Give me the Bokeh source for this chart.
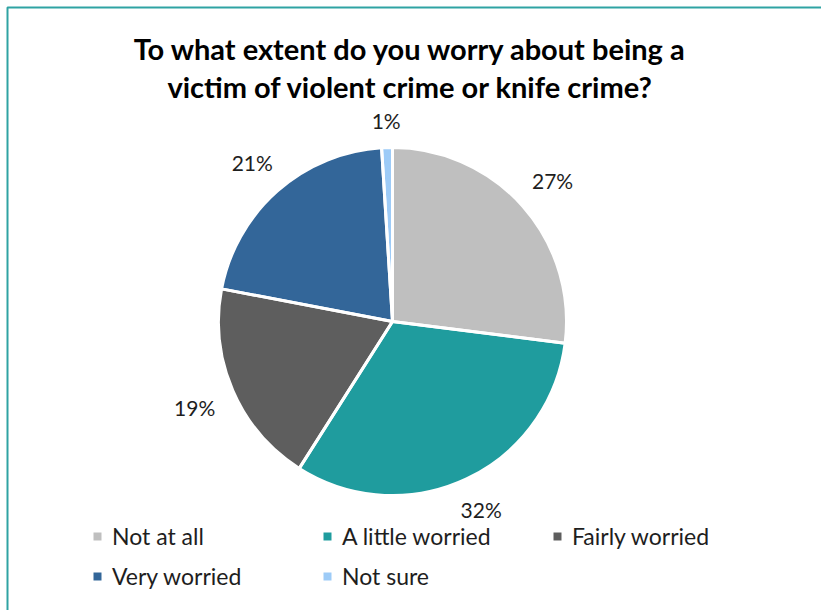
import numpy as np
from bokeh.plotting import figure
from bokeh.models import ColumnDataSource, Legend, LegendItem, BoxAnnotation, Range1d
from bokeh.core.properties import value
from bokeh.embed import file_html
from bokeh.resources import INLINE

# ---- data ----
title_lines = ["To what extent do you worry about being a",
               "victim of violent crime or knife crime?"]
categories = ["Not at all", "A little worried", "Fairly worried", "Very worried", "Not sure"]
percents = [27, 32, 19, 21, 1]
colors = ["#BFBFBF", "#1F9C9E", "#5E5E5E", "#336699", "#9DCBF7"]

W, H = 821, 610
CX, CY = 392, H - 321
R = 174
FONT = "Lato"
LABEL_PX = 21
GAP = 22

vals = np.array(percents, dtype=float)
frac = vals / vals.sum()
cum = np.concatenate([[0.0], np.cumsum(frac)])
start = np.pi / 2 - 2 * np.pi * cum[:-1]
end = np.pi / 2 - 2 * np.pi * cum[1:]
mid = (start + end) / 2
pct_text = [f"{v}%" for v in percents]
hw = np.array([len(t) * 0.31 * LABEL_PX for t in pct_text])
hh = 0.2 * LABEL_PX
ux, uy = np.cos(mid), np.sin(mid)
dist = R + GAP + np.abs(hw * ux) + np.abs(hh * uy)
lx = CX + dist * ux
ly = CY + dist * uy

src = ColumnDataSource(dict(cat=categories, pct=pct_text,
                            color=colors, start=start, end=end, lx=lx, ly=ly))

p = figure(width=W, height=H, output_backend="svg", toolbar_location=None,
           x_range=Range1d(0, W), y_range=Range1d(0, H),
           x_axis_type=None, y_axis_type=None, min_border=0)
p.grid.visible = False
p.outline_line_color = None
p.background_fill_color = "white"
p.border_fill_color = "white"

# outer frame
p.add_layout(BoxAnnotation(left=7, right=W + 20, bottom=-20, top=H - 7,
                           fill_alpha=0, line_color="#2FA3A3", line_alpha=1,
                           line_width=2))

wedges = p.wedge(x=CX, y=CY, radius=R, start_angle="start", end_angle="end",
                 direction="clock", fill_color="color", line_color=None, source=src)
p.wedge(x=CX, y=CY, radius=R, start_angle="start", end_angle="end",
        direction="clock", fill_alpha=0, line_color="white", line_width=3, source=src)

p.text(x="lx", y="ly", text="pct", source=src, text_align="center",
       text_baseline="middle", text_font=value(FONT), text_font_size=f"{LABEL_PX}px",
       text_color="#1E1E1E")

# title
p.text(x=[410, 410], y=[H - 48, H - 86], text=title_lines, text_align="center",
       text_baseline="middle", text_font=value(FONT), text_font_size="29px",
       text_font_style="bold", text_color="#000000")

items = [LegendItem(label=c, renderers=[wedges], index=i) for i, c in enumerate(categories)]
legend = Legend(items=items, orientation="horizontal", ncols=3,
                location=(92, 19), padding=0, margin=0, border_line_color=None,
                background_fill_alpha=0, glyph_width=10, glyph_height=10,
                label_standoff=10, label_width=200, label_height=30, spacing=10,
                label_text_font=FONT, label_text_font_size="23px",
                label_text_color="#1E1E1E")
p.add_layout(legend)

open("out.html", "w").write(file_html(p, INLINE))
